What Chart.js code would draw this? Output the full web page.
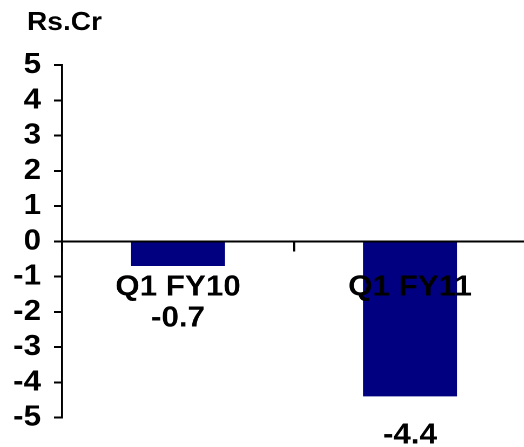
<!DOCTYPE html>
<html>
<head>
<meta charset="utf-8">
<script src="https://cdn.jsdelivr.net/npm/chart.js@4/dist/chart.umd.min.js"></script>
<style>
  html, body { margin: 0; padding: 0; background: #ffffff; overflow: hidden; }
  /* the chart is drawn slightly condensed and widened back, giving the wide lettering */
  #wrap { position: relative; width: 489px; height: 447px; transform: scaleX(1.08); transform-origin: 0 0; }
</style>
</head>
<body>
<div id="wrap"><canvas id="chart"></canvas></div>
<script>
// Quarterly result, Rs. crore
const categories = ['Q1 FY10', 'Q1 FY11'];
const profit = [-0.7, -4.4];
const yTicks = [-5, -4, -3, -2, -1, 0, 1, 2, 3, 4, 5];
const unitLabel = 'Rs.Cr';

const STRETCH = 1.08;
const FONT_FAMILY = '"Liberation Sans", Arial, Helvetica, sans-serif';
const FONT_SIZE = 29;
const boldFont = { family: FONT_FAMILY, size: FONT_SIZE, weight: 'bold', lineHeight: 1.2 };

// Unit caption above the value axis
const unitCaption = {
  id: 'unitCaption',
  afterDraw(chart) {
    const ctx = chart.ctx;
    ctx.save();
    ctx.font = `bold 26px ${FONT_FAMILY}`;
    ctx.fillStyle = '#000';
    ctx.textAlign = 'left';
    ctx.textBaseline = 'alphabetic';
    ctx.fillText(unitLabel, 27 / STRETCH, 30);
    ctx.restore();
  }
};

// Value labels under each bar (kept clear of the category labels)
const valueLabels = {
  id: 'valueLabels',
  afterDraw(chart) {
    const { ctx, scales: { x, y } } = chart;
    const meta = chart.getDatasetMeta(0);
    const axisY = y.getPixelForValue(0);
    const lineH = FONT_SIZE * 1.2;
    const catLabelY = axisY + x.options.grid.tickLength + x.options.ticks.padding + lineH / 2;
    ctx.save();
    ctx.font = `bold ${FONT_SIZE}px ${FONT_FAMILY}`;
    ctx.fillStyle = '#000';
    ctx.textAlign = 'center';
    ctx.textBaseline = 'middle';
    meta.data.forEach((bar, i) => {
      const ty = Math.max(bar.y + 39, catLabelY + 31);
      ctx.fillText(profit[i].toFixed(1), bar.x, ty);
    });
    ctx.restore();
  }
};

new Chart(document.getElementById('chart'), {
  type: 'bar',
  data: {
    labels: categories,
    datasets: [{
      data: profit,
      backgroundColor: '#000080',
      borderWidth: 0,
      barPercentage: 0.405,
      categoryPercentage: 1.0
    }]
  },
  options: {
    responsive: true,
    maintainAspectRatio: false,
    animation: false,
    devicePixelRatio: 2,
    events: [],
    layout: { padding: { top: 65, bottom: 28, left: 0, right: 2 } },
    plugins: {
      legend: { display: false },
      tooltip: { enabled: false },
      title: { display: false }
    },
    scales: {
      x: {
        type: 'category',
        position: { y: 0 },
        offset: true,
        grid: {
          display: true,
          offset: true,
          drawOnChartArea: false,
          drawTicks: true,
          tickLength: 9,
          color: '#000',
          lineWidth: 2 / STRETCH,
          z: 1
        },
        border: { display: true, color: '#000', width: 2, z: 1 },
        ticks: {
          color: '#000',
          font: boldFont,
          padding: 20,
          maxRotation: 0,
          autoSkip: false,
          z: 1
        }
      },
      y: {
        min: -5,
        max: 5,
        afterBuildTicks(scale) {
          scale.ticks = yTicks.map(v => ({ value: v }));
        },
        afterFit(scale) {
          scale.width = 62 / STRETCH;
        },
        grid: {
          display: true,
          drawOnChartArea: false,
          drawTicks: true,
          tickLength: 8 / STRETCH,
          color: '#000',
          lineWidth: 2
        },
        border: { display: true, color: '#000', width: 2 / STRETCH },
        ticks: {
          color: '#000',
          font: boldFont,
          padding: 13 / STRETCH,
          autoSkip: false
        }
      }
    }
  },
  plugins: [unitCaption, valueLabels]
});
</script>
</body>
</html>
